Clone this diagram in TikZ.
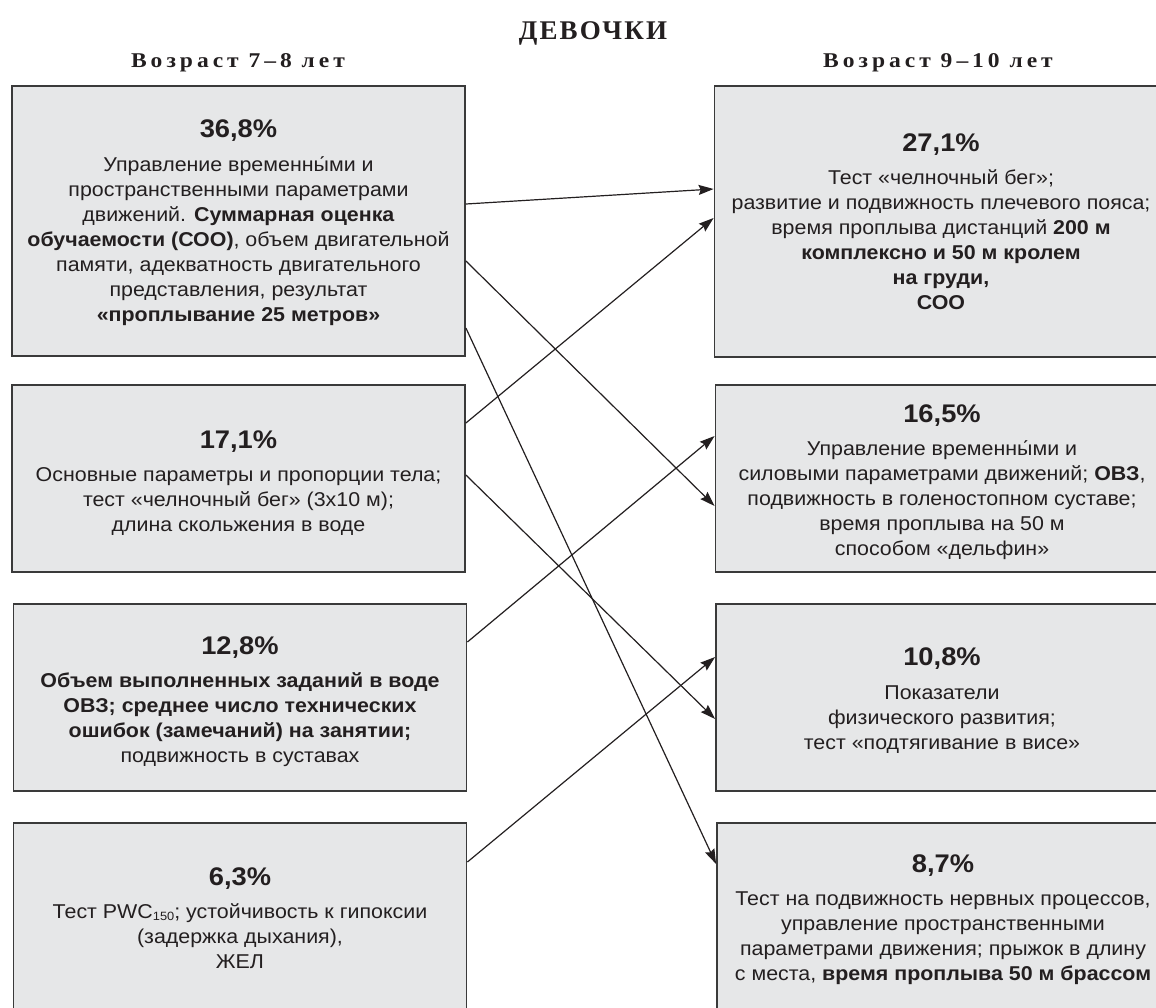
\documentclass[tikz,border=0pt]{standalone}
\usepackage{fontspec}
\setmainfont{Liberation Sans}[FakeStretch=1.07]
\newfontfamily\serifhead[LetterSpace=8]{Liberation Serif}
\newfontfamily\spacedhead[LetterSpace=19,FakeStretch=1.12]{Liberation Serif}
\usetikzlibrary{arrows.meta}
\definecolor{boxfill}{HTML}{E6E7E8}
\definecolor{boxline}{HTML}{3A3A3A}
\definecolor{ink}{HTML}{231F20}

\tikzset{
  panel/.style={draw=boxline, line width=1.8pt, fill=boxfill, inner sep=0pt,
                minimum width=453pt, minimum height=#1},
  panel/.default=187pt,
  info/.style={inner sep=0pt, align=center, text=ink,
               font=\fontsize{20}{25}\selectfont},
  link/.style={draw=ink, line width=1.2pt,
               -{Stealth[length=15pt,width=10pt,inset=2pt]}},
  agehead/.style={inner sep=0pt, text=ink,
                  font=\spacedhead\bfseries\fontsize{21}{21}\selectfont},
}
\newcommand\pct[1]{{\fontsize{25.5}{25.5}\selectfont\bfseries #1}\\[8.5pt]}
\newcommand\lowidx[1]{{\fontsize{12}{12}\selectfont\raisebox{-1.5pt}{#1}}}

\begin{document}
\begin{tikzpicture}[x=1pt,y=-1pt]
\useasboundingbox (0,0) rectangle (1156,1007);

% headings
\node[inner sep=0pt, text=ink, font=\serifhead\bfseries\fontsize{27}{27}\selectfont]
  (title) at (593,33) {ДЕВОЧКИ};
\node[agehead] (age1) at (238,63) {Возраст 7–8 лет};
\node[agehead] (age2) at (938,63) {Возраст 9–10 лет};

% left column: age 7-8
\node[panel=270pt] (l1) at (238.5,221) {};
\node[panel]       (l2) at (238.5,478.5) {};
\node[panel]       (l3) at (240,697.5) {};
\node[panel=194pt] (l4) at (240,920) {};

% right column: age 9-10
\node[panel=271pt] (r1) at (941,221.5) {};
\node[panel]       (r2) at (942,478.5) {};
\node[panel]       (r3) at (942.5,697.5) {};
\node[panel=194pt] (r4) at (943.5,920) {};

% texts of the left column
\node[info] (l1t) at (238.5,222.8) {\pct{36,8\%}
Управление временны́ми и\\
пространственными параметрами\\
движений. \textbf{Суммарная оценка}\\
\textbf{обучаемости (СОО)}, объем двигательной\\
памяти, адекватность двигательного\\
представления, результат\\
\textbf{«проплывание 25 метров»}};

\node[info] (l2t) at (238.5,483) {\pct{17,1\%}
Основные параметры и пропорции тела;\\
тест «челночный бег» (3х10 м);\\
длина скольжения в воде};

\node[info] (l3t) at (240,701.8) {\pct{12,8\%}
\textbf{Объем выполненных заданий в воде}\\
\textbf{ОВЗ; среднее число технических}\\
\textbf{ошибок (замечаний) на занятии;}\\
подвижность в суставах};

\node[info] (l4t) at (240,918) {\pct{6,3\%}
Тест PWC\lowidx{150}; устойчивость к гипоксии\\
(задержка дыхания),\\
ЖЕЛ};

% texts of the right column
\node[info] (r1t) at (941,221.8) {\pct{27,1\%}
Тест «челночный бег»;\\
развитие и подвижность плечевого пояса;\\
время проплыва дистанций \textbf{200 м}\\
\textbf{комплексно и 50 м кролем}\\
\textbf{на груди,}\\
\textbf{СОО}};

\node[info] (r2t) at (942,482) {\pct{16,5\%}
Управление временны́ми и\\
силовыми параметрами движений; \textbf{ОВЗ},\\
подвижность в голеностопном суставе;\\
время проплыва на 50 м\\
способом «дельфин»};

\node[info] (r3t) at (942,700.8) {\pct{10,8\%}
Показатели\\
физического развития;\\
тест «подтягивание в висе»};

\node[info] (r4t) at (943,919.8) {\pct{8,7\%}
Тест на подвижность нервных процессов,\\
управление пространственными\\
параметрами движения; прыжок в длину\\
с места, \textbf{время проплыва 50 м брассом}};

% links between the two ages
\draw[link] ([yshift=17pt]l1.east)    -- ([yshift=32.5pt]r1.west);
\draw[link] ([yshift=55.5pt]l2.east)  -- ([yshift=3.5pt]r1.west);
\draw[link] ([yshift=-40pt]l1.east)   -- ([yshift=-27.5pt]r2.west);
\draw[link] ([yshift=-107pt]l1.east)  -- ([yshift=56pt]r4.west);
\draw[link] ([yshift=3.5pt]l2.east)   -- ([yshift=-21.5pt]r3.west);
\draw[link] ([yshift=55.5pt]l3.east)  -- ([yshift=42.5pt]r2.west);
\draw[link] ([yshift=58pt]l4.east)    -- ([yshift=40.5pt]r3.west);
\end{tikzpicture}
\end{document}
